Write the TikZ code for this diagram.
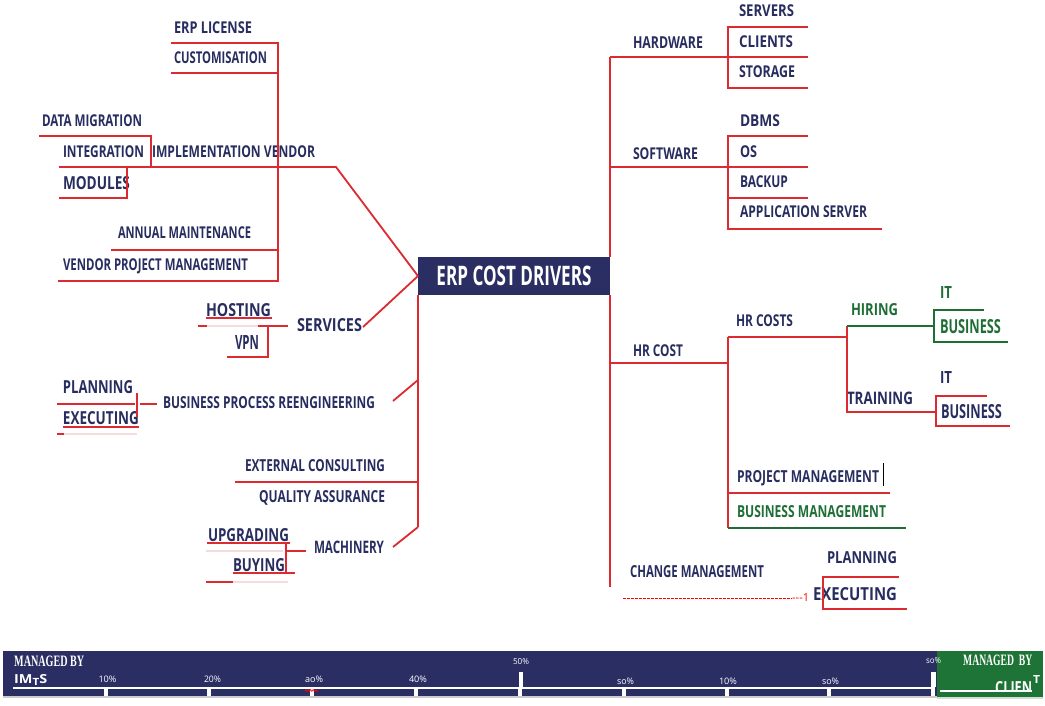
\documentclass[tikz,border=0pt]{standalone}
\usepackage{fontspec}
\usepackage{graphicx}
\usetikzlibrary{decorations.pathmorphing}
\setmainfont{Open Sans}
\newfontfamily\lblfont[FakeStretch=0.74]{Open Sans}
\newfontfamily\ttlfont[FakeStretch=0.62]{Open Sans}
\newfontfamily\serfont[FakeStretch=0.6]{Liberation Serif}
\newcommand\fw[3]{\resizebox{#1pt}{#2pt}{\raisebox{0pt}[\height][0pt]{#3}}}
\definecolor{navy}{HTML}{282D60}
\definecolor{rd}{HTML}{DC2A30}
\definecolor{gr}{HTML}{1F6E36}
\definecolor{barnavy}{HTML}{2A2E63}
\definecolor{bargreen}{HTML}{1E7436}
\definecolor{faint}{HTML}{F3DCDE}
\tikzset{
  lbl/.style={anchor=west, inner sep=0pt, outer sep=0pt, text=navy, font=\lblfont\bfseries},
  glbl/.style={lbl, text=gr},
  rl/.style={draw=rd, line width=1.8pt},
  rthin/.style={draw=rd, line width=1.2pt},
  gl/.style={draw=gr, line width=1.8pt},
  fl/.style={draw=faint, line width=1.5pt},
  titlebox/.style={fill=barnavy, text=white, minimum width=192pt, minimum height=38pt, inner sep=0pt, outer sep=0pt, font=\ttlfont\bfseries},
  pct/.style={inner sep=0pt, text=white, font=\fontsize{7}{7}\selectfont},
  mby/.style={anchor=west, inner sep=0pt, text=white, font=\serfont\bfseries},
  wtxt/.style={inner sep=0pt, text=white, font=\bfseries},
}
\begin{document}
\begin{tikzpicture}[x=1pt,y=-1pt]
\useasboundingbox (0,0) rectangle (1045,705);
\fill[white] (0,0) rectangle (1045,705);

% ---------- centre
\node[titlebox] (title) at (514,276) {\fw{155}{19.5}{ERP COST DRIVERS}};

% ---------- left top group
\node[lbl] (erpl) at (174,28) {\fw{78}{11.8}{ERP LICENSE}};
\node[lbl] (cust) at (174,58) {\fw{93}{11.8}{CUSTOMISATION}};
\node[lbl] (datam) at (42,121) {\fw{100}{11.8}{DATA MIGRATION}};
\node[lbl] (integ) at (63,152) {\fw{81}{11.8}{INTEGRATION}};
\node[lbl] (impl) at (152,152) {\fw{163}{11.8}{IMPLEMENTATION VENDOR}};
\node[lbl] (mods) at (63,183) {\fw{67}{13}{MODULES}};
\node[lbl] (annual) at (118,233) {\fw{133}{11.8}{ANNUAL MAINTENANCE}};
\node[lbl] (vpm) at (63,265) {\fw{185}{11.8}{VENDOR PROJECT MANAGEMENT}};

\coordinate (ivbend) at (336,167);
\draw[rl] (171,43) -- (278,43) -- (278,281) -- (58,281);
\draw[rl] (171,73) -- (278,73);
\draw[rl] (111,250) -- (278,250);
\draw[rl] (39,136) -- (151,136) -- (151,167);
\draw[rl] (59,167) -- (ivbend) -- (title.west);
\draw[rl] (127,167) -- (127,198) -- (59,198);

% ---------- services
\node[lbl] (host) at (206,310) {\fw{65}{13}{HOSTING}};
\node[lbl] (vpn) at (235,342) {\fw{24}{14}{VPN}};
\node[lbl] (serv) at (297,325) {\fw{65}{13}{SERVICES}};
\coordinate (servend) at (363,327);
\draw[rthin] (206,318) -- (272,318);
\draw[fl] (207,326) -- (258,326);
\draw[rl] (198,326) -- (207,326);
\draw[rl] (258,326) -- (288,326);
\draw[rl] (268,326) -- (268,357) -- (227,357);
\draw[rl] (servend) -- (title.west);

% ---------- left trunk
\coordinate (ltrunk) at (418,527);
\draw[rl] (title.south west) -- (ltrunk);

% ---------- BPR
\node[lbl] (plan1) at (63,387) {\fw{70}{13}{PLANNING}};
\node[lbl] (exec1) at (63,418) {\fw{76}{13}{EXECUTING}};
\node[lbl] (bpr) at (163,402) {\fw{212}{12}{BUSINESS PROCESS REENGINEERING}};
\draw[rl] (57,404) -- (135,404);
\draw[rthin] (137,393) -- (137,417);
\draw[rl] (140,404) -- (157,404);
\draw[rthin] (63,427) -- (139,427);
\draw[fl] (63,434) -- (137,434);
\draw[rl] (57,434) -- (64,434);
\draw[rl] (393,401) -- (418,380);

% ---------- consulting
\node[lbl] (ext) at (245,465) {\fw{140}{12}{EXTERNAL CONSULTING}};
\node[lbl] (qa) at (259,496) {\fw{126}{12}{QUALITY ASSURANCE}};
\draw[rl] (235,482) -- (418,482);

% ---------- machinery
\node[lbl] (upg) at (208,535) {\fw{81}{13}{UPGRADING}};
\node[lbl] (buy) at (233,565) {\fw{52}{13}{BUYING}};
\node[lbl] (mach) at (314,547) {\fw{70}{12.5}{MACHINERY}};
\draw[rthin] (207,543) -- (290,543);
\draw[fl] (206,551) -- (283,551);
\draw[rl] (287,551) -- (306,551);
\draw[rthin] (286,542) -- (286,572);
\draw[rthin] (233,573) -- (295,573);
\draw[fl] (233,582) -- (288,582);
\draw[rl] (206,582) -- (233,582);
\draw[rl] (393,547) -- (ltrunk);

% ---------- right trunk
\coordinate (rtop) at (610,57);
\coordinate (rbot) at (610,587);
\draw[rl] (title.north east) -- (rtop);
\draw[rl] (title.south east) -- (rbot);

% hardware
\node[lbl] (hw) at (633,43) {\fw{70}{11.8}{HARDWARE}};
\node[lbl] (servers) at (739,11) {\fw{55}{11.8}{SERVERS}};
\node[lbl] (clients) at (739,42) {\fw{54}{11.8}{CLIENTS}};
\node[lbl] (storage) at (739,72) {\fw{56}{11.8}{STORAGE}};
\draw[rl] (rtop) -- (808,57);
\draw[rl] (808,27) -- (728,27) -- (728,88) -- (808,88);

% software
\node[lbl] (sw) at (633,154) {\fw{65}{11.8}{SOFTWARE}};
\node[lbl] (dbms) at (740,121) {\fw{40}{11.8}{DBMS}};
\node[lbl] (os) at (740,152) {\fw{17}{11.8}{OS}};
\node[lbl] (backup) at (740,182) {\fw{48}{11.8}{BACKUP}};
\node[lbl] (appsrv) at (740,212) {\fw{127}{11.8}{APPLICATION SERVER}};
\draw[rl] (610,167) -- (808,167);
\draw[rl] (808,136) -- (728,136) -- (728,229) -- (882,229);
\draw[rl] (728,198) -- (808,198);

% HR
\node[lbl] (hrcost) at (633,351) {\fw{50}{11.8}{HR COST}};
\node[lbl] (hrcosts) at (736,321) {\fw{57}{11.8}{HR COSTS}};
\node[glbl] (hiring) at (851,309) {\fw{47}{12}{HIRING}};
\node[glbl] (it1) at (940,292) {\fw{12}{12}{IT}};
\node[glbl] (bus1) at (940,326) {\fw{61}{14}{BUSINESS}};
\node[lbl] (training) at (847,398) {\fw{66}{12.5}{TRAINING}};
\node[lbl] (it2) at (940,377) {\fw{12}{12}{IT}};
\node[lbl] (bus2) at (941,411) {\fw{61}{14}{BUSINESS}};
\node[lbl] (pm) at (737,476) {\fw{142}{12}{PROJECT MANAGEMENT}};
\node[glbl] (bm) at (737,511) {\fw{149}{12}{BUSINESS MANAGEMENT}};
\draw[rl] (610,363) -- (728,363);
\draw[rl] (728,337) -- (847,337);
\draw[rl] (728,337) -- (728,528);
\draw[rl] (847,326) -- (847,412) -- (936,412);
\draw[gl] (847,326) -- (934,326);
\draw[gl] (984,310) -- (934,310) -- (934,342) -- (1008,342);
\draw[rl] (987,396) -- (936,396) -- (936,426) -- (1010,426);
\draw[rl] (728,493) -- (890,493);
\draw[gl] (728,528) -- (906,528);
\draw[black, line width=1pt] (883,463) -- (883,486);

% change management
\node[lbl] (chm) at (630,571) {\fw{134}{12}{CHANGE MANAGEMENT}};
\node[lbl] (plan2) at (827,557) {\fw{70}{12}{PLANNING}};
\node[lbl] (exec2) at (813,594) {\fw{84}{13}{EXECUTING}};
\draw[rl] (899,577) -- (823,577) -- (823,609) -- (907,609);
\coordinate (dstart) at (623,598);
\node[anchor=base west, inner sep=0pt, text=red, font=\fontsize{11}{11}\selectfont\rmfamily] (dash1) at (792,601.5) {{-}{-}{-}1};
\draw[red, line width=0.9pt, dash pattern=on 3pt off 1pt] (dstart) -- (dash1.west |- dstart);

% ---------- bottom bar
\fill[barnavy] (3,651) rectangle (937,696);
\fill[bargreen] (937,651) rectangle (1043,697);
\fill[gray!40] (3,696) rectangle (937,698);
\fill[green!20!gray!30] (937,697) rectangle (1043,699);
\draw[white, line width=2.2pt] (13,688) -- (935,688);
\foreach \gx in {106,209,312,416,520,624,727,829,933}
  \fill[white] (\gx-1.6,688) rectangle (\gx+1.6,696);
\fill[white] (519,672) rectangle (523,687);
\fill[white] (931,672) rectangle (936,687);

\node[pct] (p1) at (107.5,679) {\fw{18}{6.5}{10\%}};
\node[pct] (p2) at (212.5,679) {\fw{17}{6.5}{20\%}};
\node[pct] (p3) at (314,679) {\fw{18}{6.5}{ao\%}};
\node[pct] (p4) at (418,679) {\fw{18}{6.5}{40\%}};
\node[pct] (p5) at (521,661) {\fw{16}{6}{50\%}};
\node[pct] (p6) at (625.5,681) {\fw{17}{6.5}{so\%}};
\node[pct] (p7) at (728,681) {\fw{18}{6.5}{10\%}};
\node[pct] (p8) at (830.5,681) {\fw{17}{6.5}{so\%}};
\node[pct] (p9) at (933.5,660) {\fw{15}{6}{so\%}};
\draw[red, line width=0.6pt, decorate, decoration={zigzag, amplitude=1pt, segment length=2.5pt}] (305,690.5) -- (318,690.5);

\node[mby] (mbyl) at (14,661) {\fw{70}{10.5}{MANAGED BY}};
\node[wtxt, anchor=west] (imts) at (14,679) {\fw{33}{9}{IM\raisebox{-0.12em}{\footnotesize T}S}};
\node[mby] (mbyr) at (963,660) {\fw{69}{10.5}{MANAGED~~BY}};
\begin{scope}
  \clip (985,651) rectangle (1043,690);
  \node[wtxt, anchor=north west] (clien) at (995,681) {\fw{37}{12}{CLIEN}};
\end{scope}
\node[wtxt, anchor=west] (tt) at (1033,679) {\fw{7}{8}{T}};
\draw[white, line width=1.5pt] (940,691) -- (1032,691);
\end{tikzpicture}
\end{document}
